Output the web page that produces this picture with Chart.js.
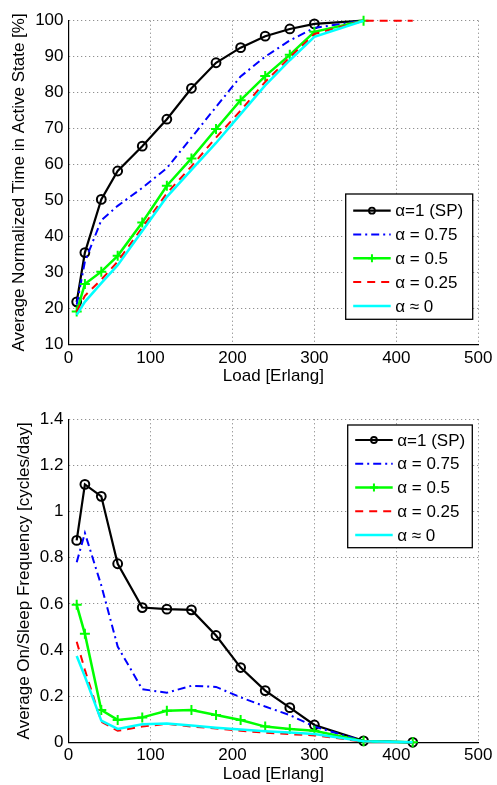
<!DOCTYPE html>
<html>
<head>
<meta charset="utf-8">
<title>Active time and on/sleep frequency vs load</title>
<script src="https://cdn.jsdelivr.net/npm/chart.js@4.4.1/dist/chart.umd.min.js"></script>
<style>
  html, body { margin: 0; padding: 0; background: #fff; }
  canvas { display: block; }
</style>
</head>
<body>
<canvas id="chartActive" width="497" height="392"></canvas>
<canvas id="chartFreq" width="497" height="393"></canvas>
<script>
// load points [Erlang]
const loads = [10, 20, 40, 60, 90, 120, 150, 180, 210, 240, 270, 300, 360, 420];
const seriesLabels = ['\u03b1=1 (SP)', '\u03b1 = 0.75', '\u03b1 = 0.5', '\u03b1 = 0.25', '\u03b1 \u2248 0'];

// average normalized time in active state [%]
const activeSP  = [21.8, 35.5, 50.3, 58.2, 65.1, 72.6, 81.2, 88.3, 92.5, 95.7, 97.7, 99.1, 100, null];
const active075 = [21.0, 33.0, 44.5, 48.5, 53.5, 59.0, 67.5, 76.0, 84.5, 90.0, 94.5, 98.0, 100, null];
const active05  = [19.1, 26.8, 30.2, 34.6, 43.9, 54.1, 61.7, 69.9, 77.9, 84.6, 90.5, 96.9, 100, null];
const active025 = [19.0, 23.5, 28.0, 33.0, 42.5, 52.0, 59.5, 67.5, 75.0, 83.0, 89.8, 96.3, 100, 100];
const active0   = [18.2, 21.8, 27.0, 32.0, 41.5, 51.0, 58.5, 66.0, 74.0, 82.0, 89.0, 95.5, 100, null];

// average on/sleep frequency [cycles/day]
const freqSP  = [0.875, 1.118, 1.066, 0.774, 0.584, 0.577, 0.574, 0.463, 0.324, 0.224, 0.150, 0.075, 0.006, 0];
const freq075 = [0.780, 0.907, 0.680, 0.415, 0.230, 0.215, 0.245, 0.240, 0.195, 0.155, 0.118, 0.068, 0.005, 0];
const freq05  = [0.596, 0.470, 0.140, 0.097, 0.108, 0.137, 0.140, 0.118, 0.097, 0.068, 0.058, 0.050, 0.005, 0];
const freq025 = [0.436, 0.314, 0.089, 0.050, 0.068, 0.080, 0.068, 0.060, 0.050, 0.042, 0.035, 0.030, 0.003, 0];
const freq0   = [0.374, 0.285, 0.094, 0.058, 0.078, 0.082, 0.073, 0.063, 0.055, 0.048, 0.042, 0.036, 0.005, 0];

const xTicks = { min: 0, max: 500, step: 100 };

Chart.defaults.font.family = "'Liberation Sans', Arial, sans-serif";
Chart.defaults.font.size = 17;
Chart.defaults.color = '#000';

// legend drawn inside the plot, boxed like the matlab one
const boxLegend = {
  id: 'boxLegend',
  afterDatasetsDraw(chart, args, opts) {
    const { ctx, chartArea } = chart;
    const x = chartArea.right - opts.right - opts.width;
    const y = chartArea.top + opts.top;
    ctx.save();
    ctx.fillStyle = '#fff';
    ctx.fillRect(x, y, opts.width, opts.height);
    ctx.strokeStyle = '#000';
    ctx.lineWidth = 1.3;
    ctx.strokeRect(x, y, opts.width, opts.height);
    chart.data.datasets.forEach((ds, i) => {
      const cy = y + opts.firstRow + i * opts.rowGap;
      const x1 = x + 7.5, x2 = x + 45, cx = (x1 + x2) / 2;
      ctx.strokeStyle = ds.borderColor;
      ctx.lineWidth = ds.borderWidth;
      ctx.setLineDash(ds.borderDash || []);
      ctx.beginPath();
      ctx.moveTo(x1, cy);
      ctx.lineTo(x2, cy);
      ctx.stroke();
      ctx.setLineDash([]);
      if (ds.pointStyle === 'circle') {
        ctx.lineWidth = 1.8;
        ctx.beginPath();
        ctx.arc(cx, cy, 3, 0, Math.PI * 2);
        ctx.stroke();
      } else if (ds.pointStyle === 'cross') {
        ctx.lineWidth = 2;
        ctx.beginPath();
        ctx.moveTo(cx - 4, cy); ctx.lineTo(cx + 4, cy);
        ctx.moveTo(cx, cy - 4); ctx.lineTo(cx, cy + 4);
        ctx.stroke();
      }
      ctx.fillStyle = '#000';
      ctx.font = "17px 'Liberation Sans', Arial, sans-serif";
      ctx.textBaseline = 'middle';
      ctx.textAlign = 'left';
      ctx.fillText(seriesLabels[i], x + 49.5, cy + 1);
    });
    ctx.restore();
  }
};

function makeDatasets(sp, a075, a05, a025, a0, hideLastSP) {
  const pts = arr => loads.map((l, i) => ({ x: l, y: arr[i] }));
  return [
    { data: pts(sp), borderColor: '#000000', borderWidth: 2.2, pointStyle: 'circle',
      pointRadius: hideLastSP ? loads.map(l => l >= 360 ? 0 : 4.4) : 4.4,
      pointBorderWidth: 2, pointBorderColor: '#000000', pointBackgroundColor: 'rgba(0,0,0,0)', order: 5 },
    { data: pts(a075), borderColor: '#0000ff', borderWidth: 2, borderDash: [8, 4, 2, 4],
      pointRadius: 0, order: 4 },
    { data: pts(a05), borderColor: '#00ff00', borderWidth: 2.5, pointStyle: 'cross',
      pointRadius: 5, pointBorderWidth: 2, pointBorderColor: '#00ff00', order: 3 },
    { data: pts(a025), borderColor: '#ff0000', borderWidth: 2, borderDash: [8, 6],
      pointRadius: 0, order: 2 },
    { data: pts(a0), borderColor: '#00ffff', borderWidth: 2.5, pointRadius: 0, order: 1 }
  ];
}

function makeOptions(cfg) {
  return {
    responsive: false,
    animation: false,
    events: [],
    datasets: { line: { clip: false, tension: 0, spanGaps: false } },
    layout: { padding: { top: cfg.top, right: 18.7, left: 0, bottom: 0 } },
    plugins: {
      legend: { display: false },
      tooltip: { enabled: false },
      boxLegend: cfg.legend
    },
    scales: {
      x: {
        type: 'linear', min: xTicks.min, max: xTicks.max,
        ticks: { stepSize: xTicks.step, padding: cfg.xPad, maxRotation: 0 },
        grid: { color: '#777', lineWidth: 1, drawTicks: false },
        border: { color: '#000', width: 1.2, dash: [1, 3] },
        title: { display: true, text: 'Load [Erlang]', padding: { top: 0, bottom: cfg.xTitlePad } },
        afterFit: s => { s.height = cfg.xHeight; }
      },
      y: {
        type: 'linear', min: cfg.yMin, max: cfg.yMax,
        ticks: { stepSize: cfg.yStep, padding: 5, callback: v => String(+v.toFixed(1)) },
        grid: { color: '#777', lineWidth: 1, drawTicks: false },
        border: { color: '#000', width: 1.2, dash: [1, 3] },
        title: { display: true, text: cfg.yTitle, padding: { top: cfg.yTitlePad, bottom: 0 } },
        afterFit: s => { s.width = 68.5; }
      }
    }
  };
}

new Chart(document.getElementById('chartActive'), {
  type: 'line',
  data: { datasets: makeDatasets(activeSP, active075, active05, active025, active0, true) },
  options: makeOptions({
    top: 20.7, xHeight: 47.7, xPad: 4, xTitlePad: 5.5,
    yMin: 10, yMax: 100, yStep: 10, yTitlePad: 9.4,
    yTitle: 'Average Normalized Time in Active State [%]',
    legend: { right: 5.6, top: 173.3, width: 127, height: 125.3, firstRow: 16.7, rowGap: 23.8 }
  }),
  plugins: [boxLegend]
});

new Chart(document.getElementById('chartFreq'), {
  type: 'line',
  data: { datasets: makeDatasets(freqSP, freq075, freq05, freq025, freq0, false) },
  options: makeOptions({
    top: 27.3, xHeight: 42.7, xPad: 3, xTitlePad: 0.5,
    yMin: 0, yMax: 1.4, yStep: 0.2, yTitlePad: 14.4,
    yTitle: 'Average On/Sleep Frequency [cycles/day]',
    legend: { right: 6, top: 5.7, width: 124.6, height: 122.7, firstRow: 15, rowGap: 23.75 }
  }),
  plugins: [boxLegend]
});
</script>
</body>
</html>
